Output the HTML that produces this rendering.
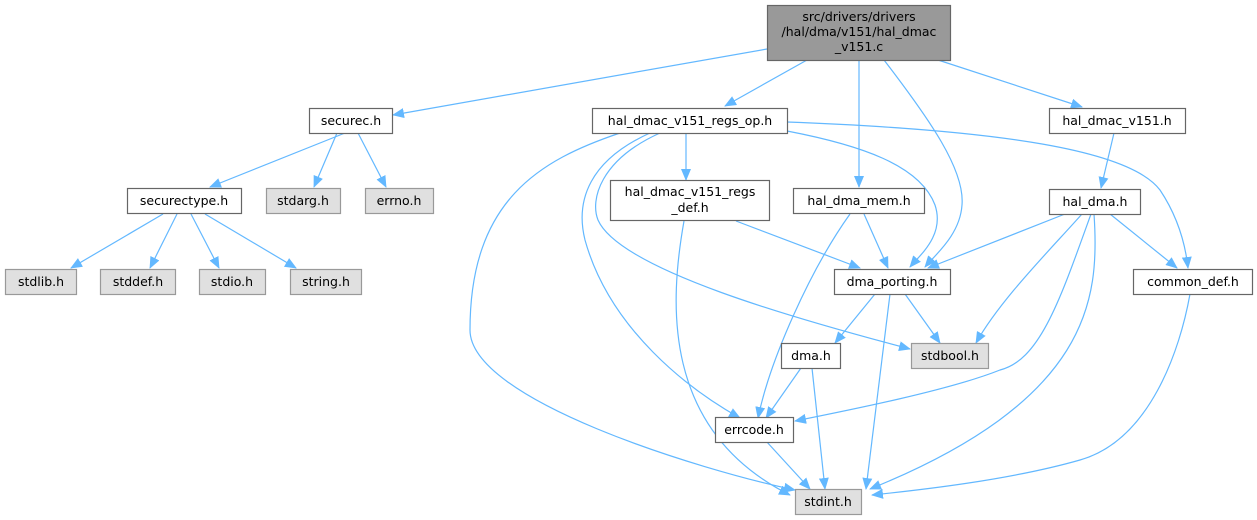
<!DOCTYPE html>
<html><head><meta charset="utf-8"><style>
html,body{margin:0;padding:0;background:#fff;}
svg{display:block;}
text{font-family:"DejaVu Sans","Liberation Sans",sans-serif;font-size:12.5px;fill:#000;}
.e{fill:none;stroke:#63b8ff;stroke-width:1.2;}
.n{fill:#fff;stroke:#666;stroke-width:1.2;}
.g{fill:#e0e0e0;stroke:#999;stroke-width:1.2;}
</style></head><body>
<svg width="1257" height="520" viewBox="0 0 1257 520" xmlns="http://www.w3.org/2000/svg">
<defs><marker id="a" markerWidth="12" markerHeight="10" refX="11" refY="5" orient="auto" markerUnits="userSpaceOnUse"><path d="M0,0 L12,5 L0,10 z" fill="#63b8ff"/></marker></defs>
<g class="e" marker-end="url(#a)">
<path d="M767,49 L393,115"/>
<path d="M807,60 L725,106"/>
<path d="M859,60 L859,187"/>
<path d="M884,60 C930,120 965,170 962,205 C960,235 935,255 925,267"/>
<path d="M938,60 L1082,107"/>
<path d="M345,133 L210,187"/>
<path d="M337,133 L314,187"/>
<path d="M358,133 L386,187"/>
<path d="M163,214 L71,268"/>
<path d="M177,214 L150,268"/>
<path d="M191,214 L219,268"/>
<path d="M205,214 L296,268"/>
<path d="M686,133 L686,180"/>
<path d="M787,131 C860,145 920,165 935,205 C945,235 920,255 910,267"/>
<path d="M787,122 C1000,130 1130,150 1160,190 C1180,220 1186,250 1188,268"/>
<path d="M660,133 C600,160 590,200 598,220 C620,270 800,320 910,349"/>
<path d="M650,133 C590,160 575,200 585,240 C610,330 690,390 740,418"/>
<path d="M620,133 C540,160 470,200 470,330 C470,400 700,470 795,490"/>
<path d="M684,221 C670,300 660,430 790,495"/>
<path d="M736,221 L860,268"/>
<path d="M864,214 L888,268"/>
<path d="M850,214 C810,270 770,360 758,418"/>
<path d="M1114,133 L1101,188"/>
<path d="M1065,214 L928,268"/>
<path d="M1110,214 L1177,268"/>
<path d="M1082,214 C1050,250 1000,300 976,343"/>
<path d="M1091,214 C1060,300 1040,360 1000,370 C950,390 850,410 795,421"/>
<path d="M1094,214 C1100,300 1090,400 870,489"/>
<path d="M1190,294 C1180,350 1150,440 1080,460 C1010,480 920,490 872,495"/>
<path d="M875,294 L835,343"/>
<path d="M890,294 L866,489"/>
<path d="M905,294 L940,343"/>
<path d="M801,368 L766,418"/>
<path d="M812,368 L825,489"/>
<path d="M766,441 L810,489"/>
</g>
<rect x="767.5" y="5.5" width="183" height="55" fill="#999" stroke="#666" stroke-width="1.2"/>
<text x="859" y="21" text-anchor="middle">src/drivers/drivers</text>
<text x="859" y="36" text-anchor="middle">/hal/dma/v151/hal_dmac</text>
<text x="859" y="51" text-anchor="middle">_v151.c</text>
<rect class="n" x="309.5" y="108.5" width="83" height="25"/><text x="351" y="125" text-anchor="middle">securec.h</text>
<rect class="n" x="592.5" y="108.5" width="195" height="25"/><text x="690" y="125" text-anchor="middle">hal_dmac_v151_regs_op.h</text>
<rect class="n" x="1049.5" y="108.5" width="136" height="25"/><text x="1117" y="125" text-anchor="middle">hal_dmac_v151.h</text>
<rect class="n" x="127.5" y="188.5" width="114" height="25"/><text x="184" y="205" text-anchor="middle">securectype.h</text>
<rect class="g" x="266.5" y="188.5" width="74" height="25"/><text x="303" y="205" text-anchor="middle">stdarg.h</text>
<rect class="g" x="365.5" y="188.5" width="68" height="25"/><text x="399" y="205" text-anchor="middle">errno.h</text>
<rect class="n" x="610.5" y="180.5" width="159" height="40"/><text x="690" y="196" text-anchor="middle">hal_dmac_v151_regs</text><text x="690" y="212" text-anchor="middle">_def.h</text>
<rect class="n" x="793.5" y="188.5" width="131" height="25"/><text x="859" y="205" text-anchor="middle">hal_dma_mem.h</text>
<rect class="n" x="1049.5" y="189.5" width="91" height="25"/><text x="1095" y="206" text-anchor="middle">hal_dma.h</text>
<rect class="g" x="5.5" y="269.5" width="71" height="25"/><text x="41" y="286" text-anchor="middle">stdlib.h</text>
<rect class="g" x="100.5" y="269.5" width="75" height="25"/><text x="138" y="286" text-anchor="middle">stddef.h</text>
<rect class="g" x="199.5" y="269.5" width="66" height="25"/><text x="232" y="286" text-anchor="middle">stdio.h</text>
<rect class="g" x="290.5" y="269.5" width="71" height="25"/><text x="326" y="286" text-anchor="middle">string.h</text>
<rect class="n" x="834.5" y="269.5" width="116" height="25"/><text x="892" y="286" text-anchor="middle">dma_porting.h</text>
<rect class="n" x="1133.5" y="269.5" width="119" height="25"/><text x="1193" y="286" text-anchor="middle">common_def.h</text>
<rect class="n" x="781.5" y="343.5" width="59" height="25"/><text x="811" y="360" text-anchor="middle">dma.h</text>
<rect class="g" x="911.5" y="343.5" width="77" height="25"/><text x="950" y="360" text-anchor="middle">stdbool.h</text>
<rect class="n" x="715.5" y="417.5" width="78" height="25"/><text x="754" y="434" text-anchor="middle">errcode.h</text>
<rect class="g" x="795.5" y="489.5" width="66" height="25"/><text x="828" y="506" text-anchor="middle">stdint.h</text>
</svg>
</body></html>
